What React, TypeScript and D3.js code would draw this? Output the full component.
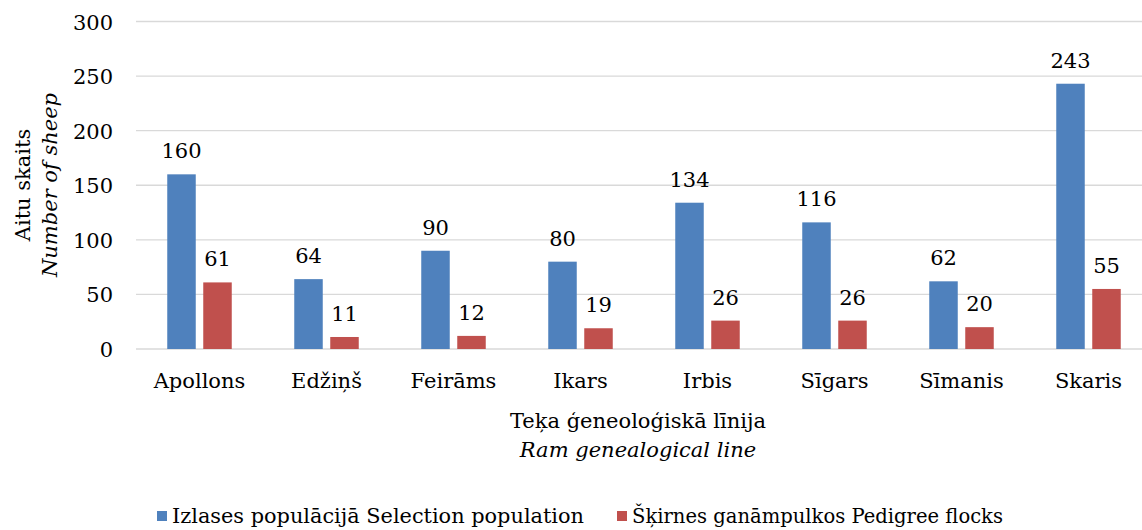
import React from "react";
import * as d3 from "d3";

const categories = ["Apollons", "Edžiņš", "Feirāms", "Ikars", "Irbis", "Sīgars", "Sīmanis", "Skaris"];
const selectionValues = [160, 64, 90, 80, 134, 116, 62, 243];
const pedigreeValues = [61, 11, 12, 19, 26, 26, 20, 55];
const yTicks = [0, 50, 100, 150, 200, 250, 300];
const seriesNames = ["Izlases populācijā Selection population", "Šķirnes ganāmpulkos Pedigree flocks"];
const colors = ["#4F81BD", "#C0504D"];

export default function App() {
  const W = 1142, H = 530;
  const font = "DejaVu Serif";
  const x = d3.scaleBand<string>().domain(categories).range([136, 1152]).paddingInner(0).paddingOuter(0);
  const y = d3.scaleLinear().domain([0, 300]).range([349, 21.5]);
  const bw = 28.5, gap = 7.5;
  const series = [selectionValues, pedigreeValues];
  const fs = 21;
  return (
    <svg width={W} height={H} style={{ position: "absolute", left: 0, top: 0, background: "#fff", fontFamily: font }}>
      {yTicks.map((t) => (
        <g key={t}>
          <line x1={136} x2={W} y1={y(t)} y2={y(t)} stroke="#d9d9d9" strokeWidth={1.3} />
          <text x={113} y={y(t) + 8} textAnchor="end" fontSize={fs} fill="#000">{t}</text>
        </g>
      ))}
      {categories.map((c, i) => {
        const cx = (x(c) as number) + x.bandwidth() / 2;
        const gw = bw * 2 + gap;
        return (
          <g key={c}>
            {series.map((vals, s) => {
              const bx = cx - gw / 2 + s * (bw + gap);
              const v = vals[i];
              return (
                <g key={s}>
                  <rect x={bx} y={y(v)} width={bw} height={y(0) - y(v)} fill={colors[s]} />
                  <text x={bx + bw / 2} y={y(v) - 16} textAnchor="middle" fontSize={fs} fill="#000">{v}</text>
                </g>
              );
            })}
            <text x={cx} y={388} textAnchor="middle" fontSize={fs} fill="#000">{c}</text>
          </g>
        );
      })}
      <text x={638} y={428} textAnchor="middle" fontSize={fs}>Teķa ģeneoloģiskā līnija</text>
      <text x={638} y={457} textAnchor="middle" fontSize={fs} fontStyle="italic">Ram genealogical line</text>
      <g transform="translate(30,185) rotate(-90)">
        <text x={0} y={0} textAnchor="middle" fontSize={fs}>Aitu skaits</text>
        <text x={0} y={27} textAnchor="middle" fontSize={fs} fontStyle="italic">Number of sheep</text>
      </g>
      <rect x={157} y={511} width={10} height={10} fill={colors[0]} />
      <text x={172} y={523} fontSize={20} textLength={412} lengthAdjust="spacingAndGlyphs">{seriesNames[0]}</text>
      <rect x={617} y={511} width={10} height={10} fill={colors[1]} />
      <text x={632} y={523} fontSize={20} textLength={371} lengthAdjust="spacingAndGlyphs">{seriesNames[1]}</text>
    </svg>
  );
}
